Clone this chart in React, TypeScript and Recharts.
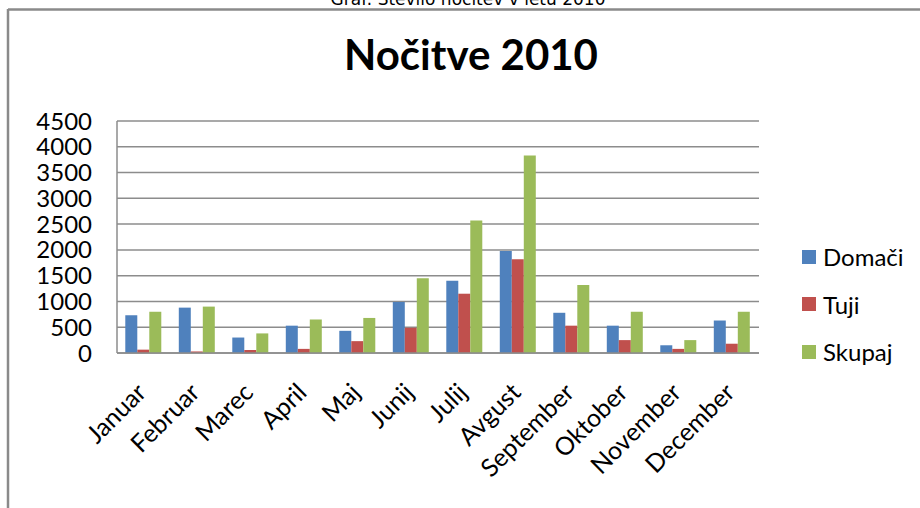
import React from 'react';
import { BarChart, Bar, XAxis, YAxis, CartesianGrid, Legend } from 'recharts';

const months = ['Januar', 'Februar', 'Marec', 'April', 'Maj', 'Junij', 'Julij', 'Avgust', 'September', 'Oktober', 'November', 'December'];
const domaci = [730, 880, 300, 530, 430, 990, 1400, 1980, 780, 530, 150, 630];
const tuji = [65, 30, 60, 80, 230, 490, 1150, 1820, 530, 250, 80, 180];
const skupaj = [800, 900, 380, 650, 680, 1450, 2570, 3830, 1320, 800, 250, 800];
const yTicks = [0, 500, 1000, 1500, 2000, 2500, 3000, 3500, 4000, 4500];
const seriesNames = ['Domači', 'Tuji', 'Skupaj'];

const FONT = 'Lato, "Open Sans", sans-serif';

const data = months.map((m, i) => ({
  month: m,
  domaci: domaci[i],
  tuji: tuji[i],
  skupaj: skupaj[i],
}));

// rotated month label, end of text sits just right of the category centre
function MonthTick({ x, y, payload }: any) {
  const tx = x + 4;
  const ty = y + 33;
  return (
    <text
      x={tx}
      y={ty}
      transform={`rotate(-45, ${tx}, ${ty})`}
      textAnchor="end"
      fontFamily={FONT}
      fontSize={25}
      fill="#000"
    >
      {payload.value}
    </text>
  );
}

function LegendBox({ payload }: any) {
  const items = [...(payload || [])].sort(
    (a: any, b: any) => seriesNames.indexOf(a.value) - seriesNames.indexOf(b.value)
  );
  return (
    <div style={{ fontFamily: FONT, fontSize: 24, color: '#000' }}>
      {items.map((p: any) => (
        <div key={p.value} style={{ height: 47.5, display: 'flex', alignItems: 'center' }}>
          <span style={{ width: 14, height: 14, background: p.color, display: 'inline-block', marginRight: 7 }} />
          <span>{p.value}</span>
        </div>
      ))}
    </div>
  );
}

export default function App() {
  return (
    <div style={{ position: 'absolute', left: 0, top: 0, width: 920, height: 508, background: '#fff', overflow: 'hidden' }}>
      <svg width={920} height={508} style={{ position: 'absolute', left: 0, top: 0 }}>
        <text x={468} y={5} textAnchor="middle" fontFamily='"DejaVu Sans", sans-serif' fontSize={17} fill="#000">
          Graf: Število nočitev v letu 2010
        </text>
        <line x1={8} y1={9.5} x2={920} y2={9.5} stroke="#8a8a8a" strokeWidth={2.5} />
        <line x1={8} y1={9} x2={8} y2={508} stroke="#8a8a8a" strokeWidth={2.5} />
        <text x={471} y={70} textAnchor="middle" fontFamily={FONT} fontWeight="bold" fontSize={42} fill="#000">
          Nočitve 2010
        </text>
      </svg>
      <div style={{ position: 'absolute', left: 0, top: 0 }}>
        <BarChart
          width={920}
          height={508}
          data={data}
          margin={{ top: 121, right: 43, left: 0, bottom: 0 }}
          barCategoryGap="15.5%"
          barGap={0}
        >
          <CartesianGrid vertical={false} stroke="#8c8c8c" strokeWidth={1.5} />
          <XAxis
            dataKey="month"
            interval={0}
            height={155}
            tick={<MonthTick />}
            tickLine={false}
            axisLine={{ stroke: '#8c8c8c', strokeWidth: 1.5 }}
          />
          <YAxis
            width={117}
            domain={[0, 4500]}
            ticks={yTicks}
            interval={0}
            tickLine={false}
            tickMargin={19}
            axisLine={{ stroke: '#8c8c8c', strokeWidth: 1.5 }}
            tick={{ fill: '#000', fontSize: 24, fontFamily: FONT }}
          />
          <Legend
            layout="vertical"
            align="right"
            verticalAlign="top"
            content={<LegendBox />}
            wrapperStyle={{ left: 802, top: 233, width: 118 }}
          />
          <Bar dataKey="domaci" name="Domači" fill="#4F81BD" isAnimationActive={false} />
          <Bar dataKey="tuji" name="Tuji" fill="#C0504D" isAnimationActive={false} />
          <Bar dataKey="skupaj" name="Skupaj" fill="#9BBB59" isAnimationActive={false} />
        </BarChart>
      </div>
    </div>
  );
}
